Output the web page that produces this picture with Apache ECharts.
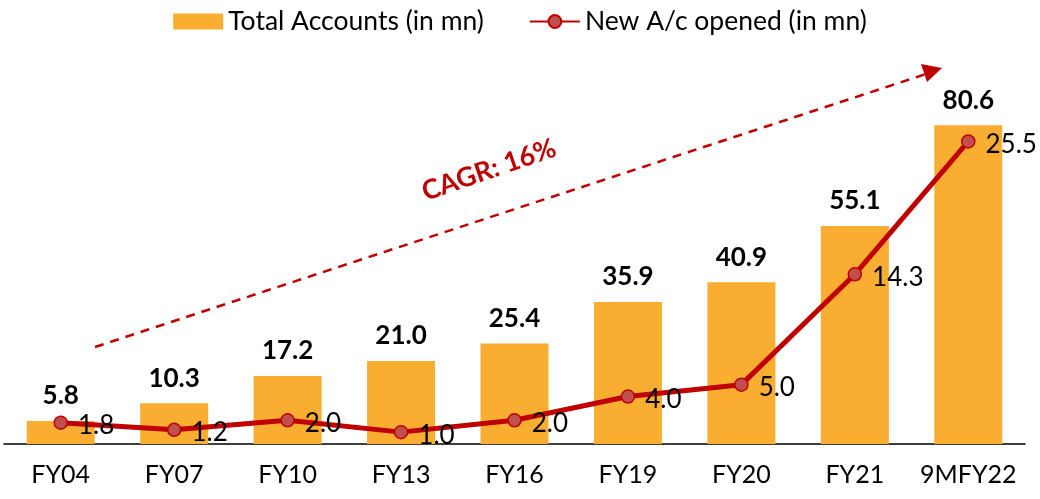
<!DOCTYPE html>
<html>
<head>
<meta charset="utf-8">
<script src="https://cdn.jsdelivr.net/npm/echarts@6/dist/echarts.min.js"></script>
<style>
html, body { margin:0; padding:0; background:#fff; }
#main { width:1040px; height:499px; }
</style>
</head>
<body>
<div id="main"></div>
<script>
// data
var years = ['FY04', 'FY07', 'FY10', 'FY13', 'FY16', 'FY19', 'FY20', 'FY21', '9MFY22'];
var totalAccounts = [5.8, 10.3, 17.2, 21.0, 25.4, 35.9, 40.9, 55.1, 80.6];
var newAccounts = [1.8, 1.2, 2.0, 1.0, 2.0, 4.0, 5.0, 14.3, 25.5];

var font = 'Lato, "Noto Sans", sans-serif';
var myChart = echarts.init(document.getElementById('main'));

var option = {
	backgroundColor: '#fff',
	textStyle: {fontFamily: font},
	legend: {
		top: 3,
		left: 'center',
		itemWidth: 50,
		itemHeight: 16,
		itemGap: 45,
		textStyle: {fontSize: 26.5, color: '#000', fontFamily: font},
		data: [
			{name: 'Total Accounts (in mn)', icon: 'rect'},
			{name: 'New A/c opened (in mn)'}
		]
	},
	grid: {left: 4, right: 15, top: 88, bottom: 55},
	xAxis: {
		type: 'category',
		data: years,
		axisTick: {show: false},
		axisLine: {lineStyle: {color: '#000', width: 1.5}},
		axisLabel: {interval: 0, fontSize: 25, color: '#000', margin: 18, fontFamily: font}
	},
	yAxis: [
		{type: 'value', min: 0, max: 90, show: false},
		{type: 'value', min: 0, max: 30, show: false}
	],
	series: [
		{
			name: 'Total Accounts (in mn)',
			type: 'bar',
			data: totalAccounts,
			barWidth: 68,
			itemStyle: {color: '#F9AE31'},
			label: {
				show: true,
				position: 'top',
				distance: 12,
				fontSize: 26,
				fontWeight: 'bold',
				color: '#000',
				fontFamily: font,
				formatter: function(p){ return p.value.toFixed(1); }
			}
		},
		{
			name: 'New A/c opened (in mn)',
			type: 'line',
			yAxisIndex: 1,
			data: newAccounts,
			symbol: 'circle',
			symbolSize: 13,
			lineStyle: {color: '#C00000', width: 5},
			itemStyle: {color: '#C0504D', borderColor: '#C00000', borderWidth: 1.5},
			label: {
				show: true,
				position: 'right',
				distance: 10,
				offset: [0, 3],
				fontSize: 26,
				color: '#000',
				fontFamily: font,
				formatter: function(p){ return p.value.toFixed(1); }
			},
			z: 5
		}
	],
	graphic: [
		{
			type: 'line',
			shape: {x1: 95, y1: 347, x2: 926, y2: 74},
			style: {stroke: '#C00000', lineWidth: 2.5, lineDash: [9, 7]}
		},
		{
			type: 'polygon',
			shape: {points: [[942, 68], [921, 64], [927, 82]]},
			style: {fill: '#C00000'}
		},
		{
			type: 'text',
			x: 489, y: 170,
			rotation: 19 * Math.PI / 180,
			style: {
				text: 'CAGR: 16%',
				fill: '#C00000',
				font: 'bold 27px ' + font,
				align: 'center',
				verticalAlign: 'middle'
			}
		}
	]
};
myChart.setOption(option);
</script>
</body>
</html>
